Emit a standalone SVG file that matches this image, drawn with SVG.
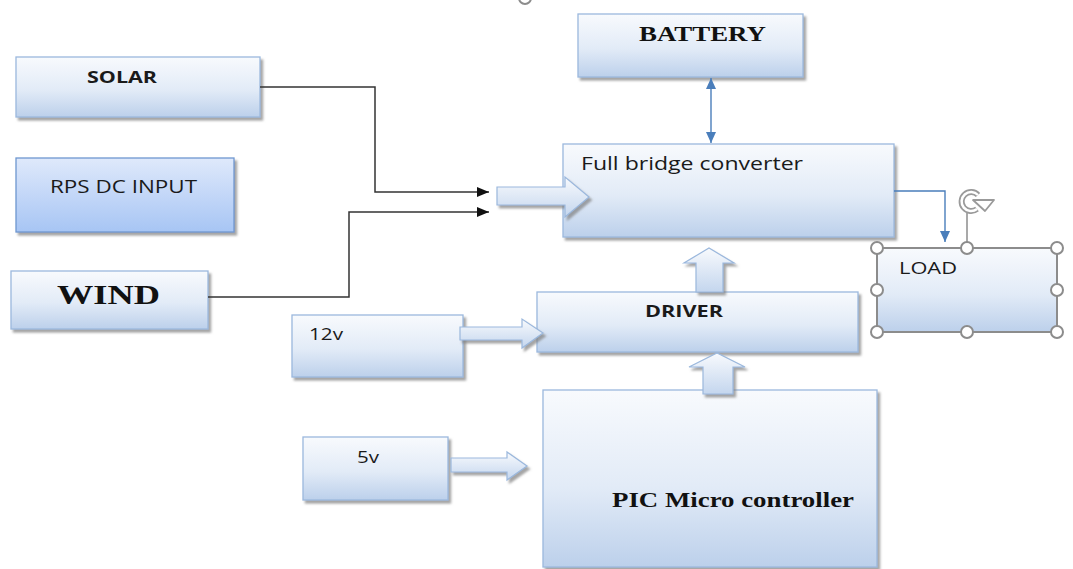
<svg xmlns="http://www.w3.org/2000/svg" width="1073" height="569" viewBox="0 0 1073 569">
<style>
.box{fill:url(#g);stroke:#9bb8dd;stroke-width:1.3;filter:url(#sh)}
.blk{fill:url(#ga);stroke:#9bb8dd;stroke-width:1.2;filter:url(#sh)}
.sans{font-family:"Open Sans","Liberation Sans",sans-serif;fill:#1a1a1a}
.serif{font-family:"Liberation Serif","Times New Roman",serif;font-weight:bold;fill:#111}
.wire{fill:none;stroke:#333;stroke-width:1.5}
.bw{fill:none;stroke:#4a7ebb;stroke-width:1.4}
.hdl{fill:#fff;stroke:#8c8c8c;stroke-width:2}
</style>
<defs>
<linearGradient id="g" x1="0" y1="0" x2="0" y2="1">
<stop offset="0" stop-color="#f8fafd"/>
<stop offset="0.55" stop-color="#e2ebf7"/>
<stop offset="1" stop-color="#bcd0eb"/>
</linearGradient>
<linearGradient id="g2" x1="0" y1="0" x2="0" y2="1">
<stop offset="0" stop-color="#dfe9fb"/>
<stop offset="1" stop-color="#a7c5f4"/>
</linearGradient>
<linearGradient id="ga" x1="0" y1="0" x2="0" y2="1">
<stop offset="0" stop-color="#f8fafd"/>
<stop offset="1" stop-color="#c4d6ee"/>
</linearGradient>
<filter id="sh" x="-10%" y="-10%" width="125%" height="130%">
<feDropShadow dx="2.5" dy="3" stdDeviation="1.2" flood-color="#7f7f7f" flood-opacity="0.7"/>
</filter>
<marker id="ab" markerWidth="12" markerHeight="10" refX="12" refY="5" orient="auto" markerUnits="userSpaceOnUse">
<path d="M0,0 L12,5 L0,10 Z" fill="#111"/>
</marker>
<marker id="bb" markerWidth="12" markerHeight="10" refX="11" refY="5" orient="auto-start-reverse" markerUnits="userSpaceOnUse">
<path d="M0,0 L11,5 L0,10 Z" fill="#4a7ebb"/>
</marker>
</defs>

<circle cx="525" cy="-2" r="6" class="hdl"/>

<g id="solar">
<rect class="box" x="16" y="57" width="244" height="60"/>
<text class="sans" x="87" y="83" font-size="16.5" font-weight="bold" textLength="70" lengthAdjust="spacingAndGlyphs">SOLAR</text>
</g>
<g id="rps">
<rect x="16" y="158" width="218" height="74" fill="url(#g2)" stroke="#6f97d0" stroke-width="1.3" filter="url(#sh)"/>
<text class="sans" x="50" y="193" font-size="17.5" textLength="147" lengthAdjust="spacingAndGlyphs">RPS DC INPUT</text>
</g>
<g id="wind">
<rect class="box" x="11" y="271" width="197" height="58"/>
<text class="serif" x="57" y="304" font-size="28" textLength="103" lengthAdjust="spacingAndGlyphs">WIND</text>
</g>
<g id="battery">
<rect class="box" x="578" y="14" width="225" height="63"/>
<text class="serif" x="639" y="41" font-size="20" textLength="127" lengthAdjust="spacingAndGlyphs">BATTERY</text>
</g>
<g id="fullbridge">
<rect class="box" x="563" y="144" width="331" height="93"/>
<text class="sans" x="581" y="170" font-size="18" textLength="222" lengthAdjust="spacingAndGlyphs">Full bridge converter</text>
</g>
<g id="driver">
<rect class="box" x="537" y="292" width="321" height="60"/>
<text class="sans" x="645" y="317" font-size="16.5" font-weight="bold" textLength="78" lengthAdjust="spacingAndGlyphs">DRIVER</text>
</g>
<g id="v12">
<rect class="box" x="292" y="315" width="171" height="62"/>
<text class="sans" x="309" y="340" font-size="17" textLength="34" lengthAdjust="spacingAndGlyphs">12v</text>
</g>
<g id="v5">
<rect class="box" x="303" y="437" width="145" height="63"/>
<text class="sans" x="357" y="463" font-size="17" textLength="22" lengthAdjust="spacingAndGlyphs">5v</text>
</g>
<g id="pic">
<rect class="box" x="543" y="390" width="334" height="177"/>
<text class="serif" x="612" y="507" font-size="20" textLength="242" lengthAdjust="spacingAndGlyphs">PIC Micro controller</text>
</g>
<g id="load">
<rect x="877" y="248" width="180" height="84" fill="url(#g)" stroke="#9bb8dd" stroke-width="1"/>
<text class="sans" x="899" y="274" font-size="17" textLength="58" lengthAdjust="spacingAndGlyphs">LOAD</text>
<rect x="877" y="248" width="180" height="84" fill="none" stroke="#8c8c8c" stroke-width="2"/>
<line x1="967" y1="213" x2="967" y2="248" stroke="#8c8c8c" stroke-width="1.5"/>
<path d="M977,209 A9.5,9.5 0 1 1 978,195" fill="none" stroke="#9a9a9a" stroke-width="6"/>
<path d="M977,209 A9.5,9.5 0 1 1 978,195" fill="none" stroke="#fff" stroke-width="2.5"/>
<path d="M973,200 L994,200 L985,211 Z" fill="#fff" stroke="#9a9a9a" stroke-width="1.8" stroke-linejoin="round"/>
<circle cx="877" cy="248" r="6" class="hdl"/>
<circle cx="967" cy="248" r="6" class="hdl"/>
<circle cx="1057" cy="248" r="6" class="hdl"/>
<circle cx="877" cy="290" r="6" class="hdl"/>
<circle cx="1057" cy="290" r="6" class="hdl"/>
<circle cx="877" cy="332" r="6" class="hdl"/>
<circle cx="967" cy="332" r="6" class="hdl"/>
<circle cx="1057" cy="332" r="6" class="hdl"/>
</g>

<g id="connectors">
<path class="wire" d="M260,87 H375 V192 H489" marker-end="url(#ab)"/>
<path class="wire" d="M208,297 H349 V212 H489" marker-end="url(#ab)"/>
<line class="bw" x1="711" y1="78" x2="711" y2="143" marker-start="url(#bb)" marker-end="url(#bb)"/>
<path class="bw" d="M894,191 H945 V242" marker-end="url(#bb)"/>
<polygon class="blk" points="497,187 565,187 565,177 589,197 565,217 565,205 497,205"/>
<polygon class="blk" points="460,327 522,327 522,319 543,333 522,348 522,340 460,340"/>
<polygon class="blk" points="451,458 507,458 507,452 527,466 507,480 507,472 451,472"/>
<polygon class="blk" points="696,292 696,263 684,263 709,248 734,263 723,263 723,292"/>
<polygon class="blk" points="703,394 703,367 689,367 717,353 745,367 733,367 733,394"/>
</g>
</svg>
